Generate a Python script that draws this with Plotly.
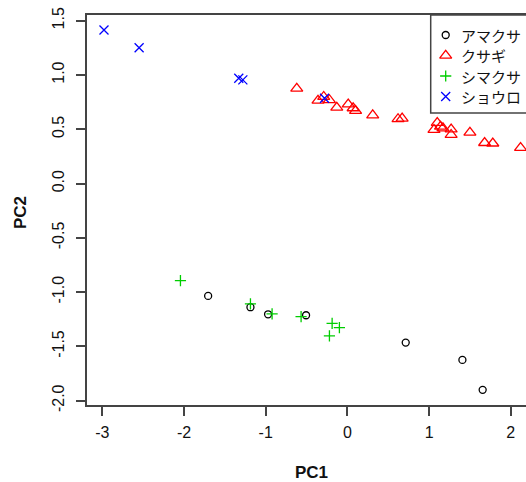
import plotly.graph_objects as go

# ---------------- data ----------------
groups = ["アマクサ", "クサギ", "シマクサ", "ショウロ"]

amakusa_pc1 = [-1.705, -1.187, -0.971, -0.506, 0.714, 1.408, 1.656]
amakusa_pc2 = [-1.035, -1.139, -1.204, -1.213, -1.465, -1.624, -1.900]

kusagi_pc1 = [-0.62, -0.36, -0.29, -0.22, -0.13, 0.01, 0.07, 0.10, 0.31, 0.62, 0.67,
              1.06, 1.10, 1.14, 1.17, 1.27, 1.27, 1.50, 1.68, 1.78, 2.12]
kusagi_pc2 = [0.875, 0.765, 0.800, 0.770, 0.700, 0.730, 0.695, 0.670, 0.630, 0.595, 0.600,
              0.495, 0.560, 0.525, 0.510, 0.500, 0.450, 0.470, 0.375, 0.370, 0.330]

shimakusa_pc1 = [-2.044, -1.187, -0.922, -0.567, -0.187, -0.098, -0.220]
shimakusa_pc2 = [-0.894, -1.109, -1.200, -1.225, -1.287, -1.327, -1.403]

shouro_pc1 = [-2.98, -2.55, -1.33, -1.28, -0.28]
shouro_pc2 = [1.414, 1.251, 0.970, 0.955, 0.785]

x_tick_vals = [-3, -2, -1, 0, 1, 2]
x_tick_text = ["-3", "-2", "-1", "0", "1", "2"]
y_tick_vals = [-2.0, -1.5, -1.0, -0.5, 0.0, 0.5, 1.0, 1.5]
y_tick_text = ["-2.0", "-1.5", "-1.0", "-0.5", "0.0", "0.5", "1.0", "1.5"]

# ---------------- style ----------------
W, H = 526, 482
ML, MT, MB, MR = 87, 15, 77, 0
PW, PH = W - ML - MR, H - MT - MB

symbols = ["circle-open", "triangle-up-open", "cross-thin-open", "x-thin-open"]
colors = ["#000000", "#FF0000", "#00CD00", "#0000FF"]
sizes = [7, 10.5, 8, 9]
lw = 1.3
AX = "#444444"
TICKFONT = dict(family="Liberation Sans, Arial, sans-serif", size=16, color="#111111")
TITLEFONT = dict(family="Liberation Sans, Arial, sans-serif", size=17, color="#111111")
JPFONT = dict(family="Noto Sans CJK JP, sans-serif", size=15, color="#111111")

series = [(amakusa_pc1, amakusa_pc2), (kusagi_pc1, kusagi_pc2),
          (shimakusa_pc1, shimakusa_pc2), (shouro_pc1, shouro_pc2)]

fig = go.Figure()
for i, (xs, ys) in enumerate(series):
    fig.add_trace(go.Scatter(
        x=xs, y=ys, mode="markers", name=groups[i], showlegend=False,
        marker=dict(symbol=symbols[i], size=sizes[i], color=colors[i],
                    line=dict(color=colors[i], width=lw)),
    ))

# manual legend (pixel-space overlay axes)
leg_left, leg_top, leg_bot = 430.7, 15, 113
row_y = [35, 55.5, 76, 96.5]
sym_x, txt_x = 445.7, 459
for i in range(4):
    fig.add_trace(go.Scatter(
        x=[sym_x], y=[row_y[i]], xaxis="x2", yaxis="y2", mode="markers",
        showlegend=False, hoverinfo="skip",
        marker=dict(symbol=symbols[i], size=sizes[i], color=colors[i],
                    line=dict(color=colors[i], width=lw)),
    ))

def px(xp):
    return (xp - ML) / PW

def py(yp):
    return (H - MB - yp) / PH

annotations = []
for i in range(4):
    annotations.append(dict(x=px(txt_x), y=py(row_y[i]), xref="paper", yref="paper",
                            text=groups[i], showarrow=False, xanchor="left",
                            yanchor="middle", font=JPFONT))
annotations.append(dict(x=px(311), y=py(472.5), xref="paper", yref="paper",
                        text="<b>PC1</b>", showarrow=False, xanchor="center",
                        yanchor="middle", font=TITLEFONT))
annotations.append(dict(x=px(20), y=py(213), xref="paper", yref="paper",
                        text="<b>PC2</b>", showarrow=False, xanchor="center",
                        yanchor="middle", textangle=-90, font=TITLEFONT))

shapes = [dict(type="rect", xref="x2", yref="y2", x0=leg_left, x1=560, y0=leg_top, y1=leg_bot,
               line=dict(color=AX, width=1.5), fillcolor="white", layer="below")]

xr = [(ML - 347.4) / 81.68, (W - 347.4) / 81.68]
yr = [(183.56 - (H - MB)) / 108.57, (183.56 - MT) / 108.57]

fig.update_layout(
    width=W, height=H,
    margin=dict(l=ML, r=MR, t=MT, b=MB, pad=0, autoexpand=False),
    paper_bgcolor="white", plot_bgcolor="white",
    showlegend=False,
    xaxis=dict(range=xr, tickvals=x_tick_vals, ticktext=x_tick_text,
               showgrid=False, zeroline=False, showline=True, linecolor=AX,
               linewidth=1.8, mirror=True, ticks="outside", ticklen=9,
               tickwidth=1.5, tickcolor=AX, tickfont=TICKFONT, ticklabelstandoff=3),
    yaxis=dict(range=yr, tickvals=y_tick_vals, ticktext=y_tick_text,
               showgrid=False, zeroline=False, showline=True, linecolor=AX,
               linewidth=1.8, mirror=False, ticks="outside", ticklen=9,
               tickwidth=1.5, tickcolor=AX, tickfont=TICKFONT, tickangle=-90,
               ticklabelstandoff=6),
    xaxis2=dict(range=[ML, W - MR], overlaying="x", anchor="y2", visible=False,
                showgrid=False, zeroline=False),
    yaxis2=dict(range=[H - MB, MT], overlaying="y", anchor="x2", visible=False,
                showgrid=False, zeroline=False),
    annotations=annotations,
    shapes=shapes,
)

fig.write_html("out.html", config={"displayModeBar": False},
               post_script="document.body.style.margin='0';document.body.style.overflow='hidden';")
